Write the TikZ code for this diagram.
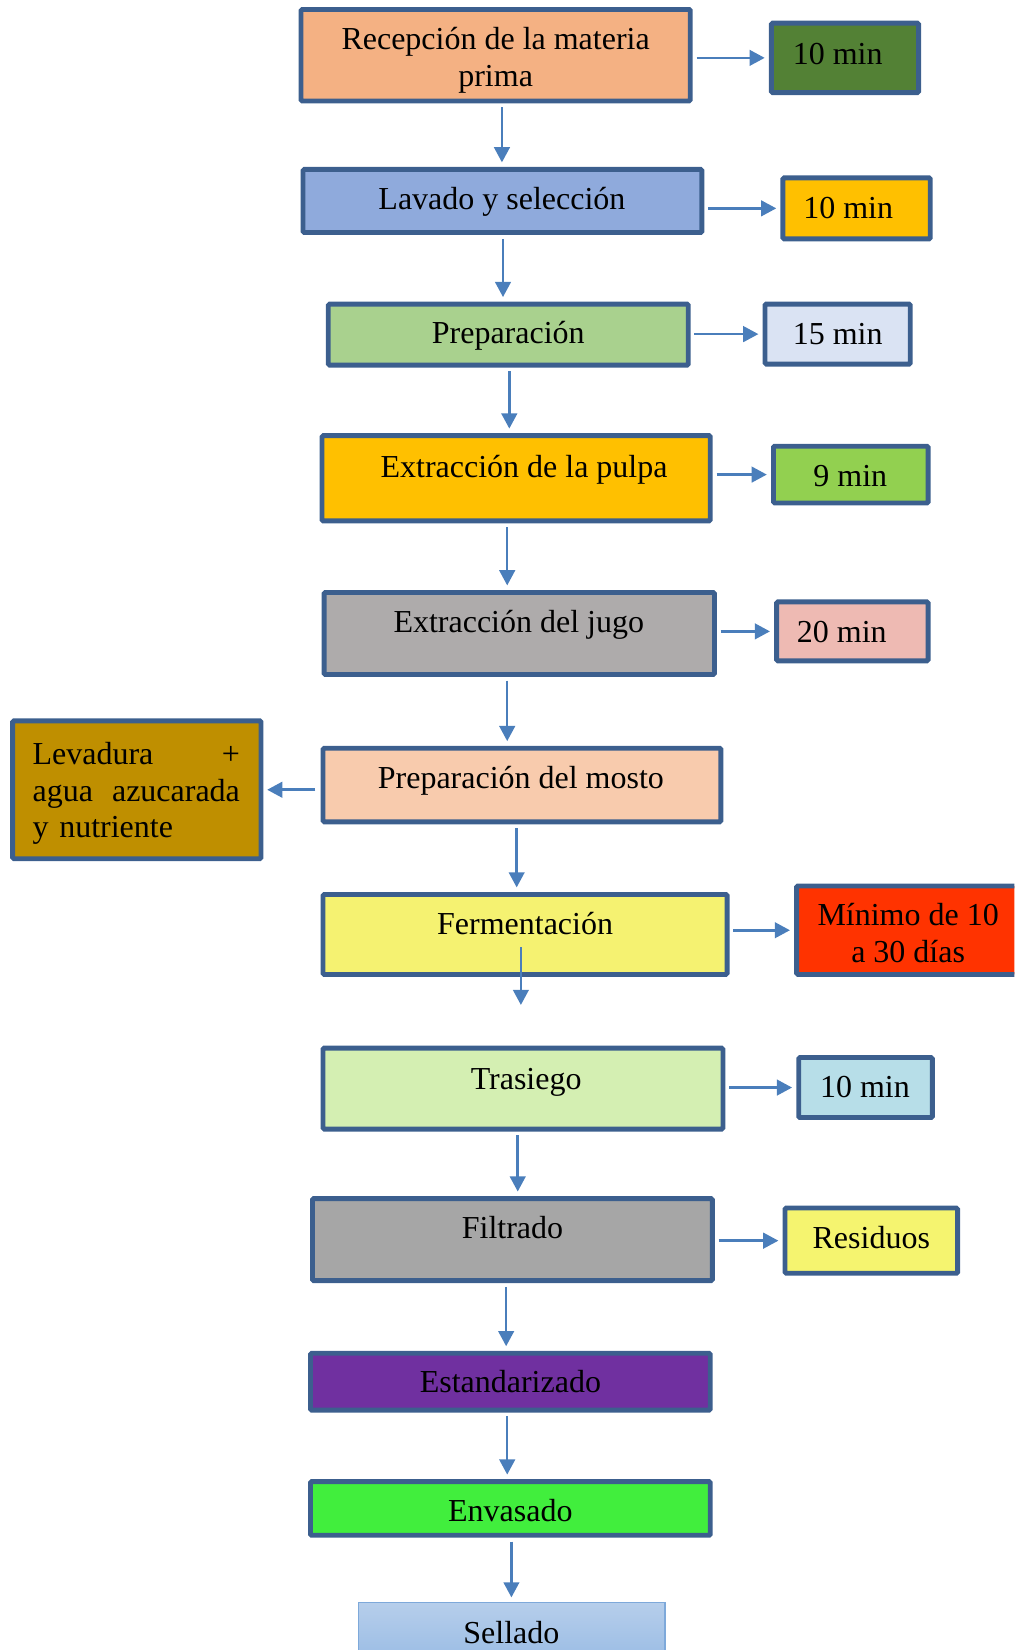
\documentclass[tikz,border=0pt]{standalone}
\usepackage{fontspec}
\setmainfont{Liberation Serif}
\usetikzlibrary{arrows.meta,fit,calc}
\definecolor{bord}{HTML}{3C5F8E}
\definecolor{arrc}{HTML}{4A7EBB}
\definecolor{cRec}{HTML}{F4B183}
\definecolor{cM1}{HTML}{538135}
\definecolor{cLav}{HTML}{8FAADC}
\definecolor{cOr}{HTML}{FFC000}
\definecolor{cPre}{HTML}{A9D18E}
\definecolor{cM3}{HTML}{DAE3F3}
\definecolor{cM4}{HTML}{92D050}
\definecolor{cJug}{HTML}{AEABAB}
\definecolor{cM5}{HTML}{EEBAB3}
\definecolor{cMos}{HTML}{F8CBAD}
\definecolor{cLev}{HTML}{BF8F00}
\definecolor{cFer}{HTML}{F5F271}
\definecolor{cM7}{HTML}{FF3300}
\definecolor{cTra}{HTML}{D4EFB2}
\definecolor{cM8}{HTML}{B7DEE8}
\definecolor{cFil}{HTML}{A6A6A6}
\definecolor{cRes}{HTML}{F5F46F}
\definecolor{cEst}{HTML}{7030A0}
\definecolor{cEnv}{HTML}{41EE3D}
\definecolor{selB}{HTML}{7EA9DA}
\definecolor{selT}{HTML}{B6CEEB}
\definecolor{selD}{HTML}{95B9E3}
\begin{document}
\begin{tikzpicture}[x=0.5pt,y=-0.5pt,
  box/.style={draw=bord, line width=2.3pt, inner sep=0pt, rectangle, rounded corners=0.6pt},
  lbl/.style={font=\fontsize{15.2}{17.5}\selectfont, align=center, inner sep=0pt, text=black},
  one/.style={lbl, text height=0.7em, text depth=0.2em, yshift=-2.6pt},
  arr/.style={draw=arrc, line width=1.2pt, -{Triangle[length=7.2pt,width=7.4pt]}},
  hz/.style={arr, shorten <=1.8pt, shorten >=2pt},
  vt/.style={arr, shorten <=1.8pt, shorten >=2.2pt}]
\useasboundingbox (0,0) rectangle (964,1568);
\begin{scope}
\clip (0,0) rectangle (964,1568);
% main boxes
\node[box, fill=cRec, fit={(286,9) (656,96)}] (rec) {};
\node[box, fill=cLav, fit={(288,161) (667,221)}] (lav) {};
\node[box, fill=cPre, fit={(312,289) (654,347)}] (pre) {};
\node[box, fill=cOr, fit={(306,414) (675,495)}] (pul) {};
\node[box, fill=cJug, fit={(308,563) (679,641)}] (jug) {};
\node[box, fill=cMos, fit={(307,711) (685,781)}] (mos) {};
\node[box, fill=cFer, fit={(307,850) (691,926)}] (fer) {};
\node[box, fill=cTra, fit={(307,996) (687,1073)}] (tra) {};
\node[box, fill=cFil, fit={(297,1139) (677,1217)}] (fil) {};
\node[box, fill=cEst, fit={(295,1286) (675,1340)}] (est) {};
\node[box, fill=cEnv, fit={(295,1408) (675,1459)}] (env) {};
\node[draw=selB, line width=0.6pt, inner sep=0pt, top color=selT, bottom color=selD, fit={(341,1523) (632,1588)}] (sel) {};
% side boxes
\node[box, fill=cM1, fit={(733,22) (873,88)}] (m1) {};
\node[box, fill=cOr, fit={(744,169) (884,227)}] (m2) {};
\node[box, fill=cM3, fit={(727,289) (865,346)}] (m3) {};
\node[box, fill=cM4, fit={(735,424) (882,478)}] (m4) {};
\node[box, fill=cM5, fit={(738,572) (882,628)}] (m5) {};
\node[box, fill=cLev, fit={(12,685) (248,816)}] (lev) {};
\node[box, fill=cM7, fit={(757,842) (972,926)}] (m7) {};
\node[box, fill=cM8, fit={(759,1005) (886,1062)}] (m8) {};
\node[box, fill=cRes, fit={(746,1148) (910,1210)}] (res) {};
% texts
\node[lbl] (tRec) at (471,57) {Recepción de la materia\\prima};
\node[one] (tLav) at (477,189) {Lavado y selección};
\node[one] (tPre) at (483,316) {Preparación};
\node[one] (tPul) at (498,444) {Extracción de la pulpa};
\node[one] (tJug) at (493,591) {Extracción del jugo};
\node[one] (tMos) at (495,739) {Preparación del mosto};
\node[one] (tFer) at (499,878) {Fermentación};
\node[one] (tTra) at (500,1025) {Trasiego};
\node[one] (tFil) at (487,1167) {Filtrado};
\node[one] (tEst) at (485,1313) {Estandarizado};
\node[one] (tEnv) at (485,1436) {Envasado};
\node[one] (tSel) at (486,1552) {Sellado};
\node[one] (tM1) at (796,51) {10 min};
\node[one] (tM2) at (806,197) {10 min};
\node[one] (tM3) at (796,317) {15 min};
\node[one] (tM4) at (808,452) {9 min};
\node[one] (tM5) at (800,600) {20 min};
\node[lbl, align=left, text width=98.5pt] (tLev) at (129.5,754) {Levadura\hfill+\\agua\hfill azucarada\\y nutriente};
\node[lbl] (tM7) at (863,887) {Mínimo de 10\\a 30 días};
\node[one] (tM8) at (822,1033) {10 min};
\node[one] (tRes) at (828,1176) {Residuos};
% horizontal arrows
\draw[hz] (rec.east |- m1.west) -- (m1.west);
\draw[hz] (lav.east |- m2.west) -- (m2.west);
\draw[hz] (pre.east |- m3.west) -- (m3.west);
\draw[hz] (pul.east |- m4.west) -- (m4.west);
\draw[hz] (jug.east |- m5.west) -- (m5.west);
\draw[arr, shorten <=2.5pt, shorten >=1.8pt] (mos.west |- lev.east) -- (lev.east);
\draw[hz] (fer.east |- m7.west) -- (m7.west);
\draw[hz] (tra.east |- m8.west) -- (m8.west);
\draw[hz] (fil.east |- res.west) -- (res.west);
% vertical arrows
\draw[vt] ([xshift=3pt]rec.south) -- ([xshift=-0.25pt]lav.north);
\draw[vt] ([xshift=0.25pt]lav.south) -- ([xshift=-2.5pt]pre.north);
\draw[vt] ([xshift=0.5pt]pre.south) -- ([xshift=-3.25pt]pul.north);
\draw[vt] ([xshift=-4.25pt]pul.south) -- ([xshift=-5.75pt]jug.north);
\draw[vt] ([xshift=-5.75pt]jug.south) -- ([xshift=-7pt]mos.north);
\draw[vt] ([xshift=-2.5pt]mos.south) -- ([xshift=-4pt]fer.north);
\coordinate (fend) at (495,955);
\draw[arr] ([xshift=-2pt,yshift=-6pt]fer.center) -- (fend);
\draw[vt] ([xshift=-2.5pt]tra.south) -- ([xshift=2.5pt]fil.north);
\draw[vt] ([xshift=-3pt]fil.south) -- ([xshift=-2pt]est.north);
\draw[vt] ([xshift=-1.5pt]est.south) -- ([xshift=-1.5pt]env.north);
\draw[vt] ([xshift=0.5pt]env.south) -- ([xshift=-0.25pt]sel.north);
\end{scope}
\end{tikzpicture}
\end{document}
